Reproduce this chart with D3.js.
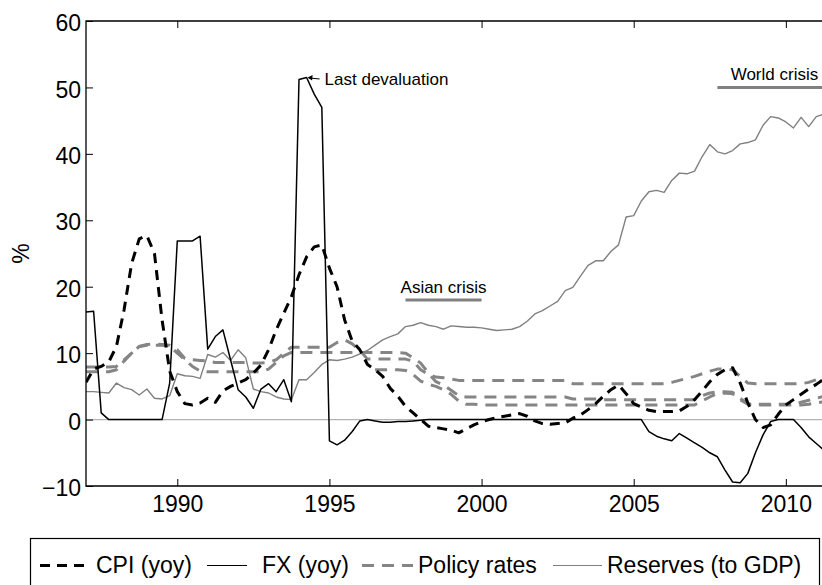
<!DOCTYPE html>
<html>
<head>
<meta charset="utf-8">
<title>CPI, FX, policy rates and reserves</title>
<script src="https://cdn.jsdelivr.net/npm/d3@7"></script>
<style>
body { margin: 0; background: #fff; }
svg text { font-family: "Liberation Sans", Arial, sans-serif; fill: #000; }
</style>
</head>
<body>
<div id="chart"></div>
<script>
// quarterly observations, 1987Q1 .. 2011Q2
const quarters = d3.range(1987, 2011.26, 0.25);

const cpi = [
	5.6, 7.6, 8.0, 8.7,   11, 16.5, 23.5, 27.2,   27.7, 25, 15, 7.3,
	4.2, 2.4, 2.2, 2.5,   3.2, 2.6, 4.3, 5.0,     5.5, 6.0, 7.0, 8.2,
	10.5, 13.5, 16, 18.5, 21.8, 24.5, 26.0, 26.3, 22.8, 20, 15, 11.8,
	10.5, 8.3, 7.5, 6.5,  4.7, 3.5, 2.0, 1.0,     0, -1.0, -1.2, -1.4,
	-1.6, -2.0, -1.4, -0.8, -0.3, 0, 0.3, 0.5,    0.7, 0.9, 0.5, -0.2,
	-0.6, -0.7, -0.6, -0.5, 0.2, 0.7, 1.5, 2.4,   3.5, 4.5, 5.2, 3.9,
	2.4, 1.9, 1.4, 1.2,   1.2, 1.2, 1.3, 2.0,     3.0, 4.3, 5.7, 6.8,
	7.5, 7.8, 5.5, 2.5,   0, -1.2, -0.8, 0.8,     2.2, 3.0, 3.8, 4.6,
	5.3, 6.1
];

const fx = [
	16.2, 16.3, 1.0, 0,   0, 0, 0, 0,             0, 0, 0, 5.5,
	26.9, 26.9, 26.9, 27.6, 10.6, 12.5, 13.5, 9.0, 4.5, 3.4, 1.7, 4.6,
	5.4, 4.2, 6.0, 2.7,   51.2, 51.5, 49.0, 47.0, -3.2, -3.8, -3.1, -1.8,
	-0.2, 0, -0.2, -0.4,  -0.4, -0.3, -0.3, -0.2, -0.1, 0, 0, 0,
	0, 0, 0, 0,           0, 0, 0, 0,             0, 0, 0, 0,
	0, 0, 0, 0,           0, 0, 0, 0,             0, 0, 0, 0,
	0, 0, -1.8, -2.5,     -2.9, -3.2, -2.1, -2.8, -3.5, -4.2, -5.0, -5.6,
	-7.6, -9.4, -9.5, -8.1, -5.0, -2.3, -0.3, 0,  0, 0, -1.2, -2.6,
	-3.6, -4.6
];

// three policy rate series share one legend entry
const policyA = [
	7.9, 7.9, 7.9, 7.9,   8.0, 9.0, 10.0, 11.0,   11.3, 11.4, 11.3, 11.2,
	10.5, 9.2, 9.0, 8.9,  8.8, 8.6, 8.6, 8.6,     8.6, 8.6, 8.5, 8.5,
	8.6, 9.0, 10.0, 10.9, 10.9, 10.9, 10.9, 10.9, 10.9, 11.6, 12.0, 11.4,
	10.4, 9.1, 9.1, 9.1,  9.1, 9.1, 9.1, 8.8,     7.5, 6.8, 6.4, 6.3,
	6.1, 5.9, 5.9, 5.9,   5.9, 5.9, 5.9, 5.9,     5.9, 5.9, 5.9, 5.9,
	5.9, 5.9, 5.9, 5.9,   5.4, 5.4, 5.4, 5.4,     5.4, 5.4, 5.4, 5.4,
	5.4, 5.4, 5.4, 5.4,   5.4, 5.6, 5.9, 6.2,     6.5, 6.9, 7.3, 7.6,
	7.6, 7.5, 6.5, 5.5,   5.4, 5.4, 5.4, 5.4,     5.4, 5.4, 5.4, 5.6,
	6.0, 6.5
];

const policyB = [
	7.2, 7.2, 7.2, 7.2,   7.5, 8.8, 10.0, 11.0,   11.2, 11.2, 11.2, 11.1,
	10.0, 9.0, 8.0, 7.3,  7.2, 7.2, 7.2, 7.2,     7.2, 7.2, 7.2, 7.2,
	7.6, 8.6, 9.6, 10.1,  10.1, 10.1, 10.1, 10.1, 10.1, 10.1, 10.1, 10.1,
	10.1, 10.1, 10.1, 10.1, 10.1, 10.1, 10.0, 9.3, 8.5, 7.0, 5.7, 5.2,
	4.4, 3.6, 3.4, 3.4,   3.4, 3.4, 3.4, 3.4,     3.4, 3.4, 3.4, 3.4,
	3.4, 3.4, 3.4, 3.4,   3.1, 3.1, 3.1, 3.1,     3.0, 3.0, 3.0, 3.0,
	3.0, 3.0, 3.0, 3.0,   3.0, 3.0, 3.0, 3.0,     3.0, 3.6, 4.0, 4.2,
	4.2, 4.1, 3.2, 2.4,   2.3, 2.3, 2.3, 2.3,     2.3, 2.3, 2.6, 2.9,
	3.2, 3.5
];

const policyC = [
	null, null, null, null, null, null, null, null, null, null, null, null,
	null, null, null, null, null, null, null, null, null, null, null, null,
	null, null, null, null, null, null, null, null, null, null, null, null,
	null, null, 7.5, 7.5, 7.5, 7.5, 7.4, 6.8,     5.8, 5.3, 5.0, 4.5,
	3.8, 2.8, 2.3, 2.3,   2.2, 2.2, 2.2, 2.2,     2.2, 2.2, 2.2, 2.2,
	2.2, 2.2, 2.2, 2.2,   2.2, 2.2, 2.2, 2.2,     2.2, 2.2, 2.2, 2.2,
	2.2, 2.2, 2.2, 2.2,   2.2, 2.2, 2.2, 2.2,     2.2, 2.8, 3.4, 3.9,
	4.0, 3.9, 3.0, 2.3,   2.2, 2.2, 2.2, 2.2,     2.2, 2.2, 2.2, 2.3,
	2.5, 2.7
];

const reserves = [
	4.2, 4.2, 4.1, 4.0,   5.5, 4.8, 4.5, 3.7,     4.6, 3.2, 3.1, 3.6,
	6.9, 6.6, 6.5, 6.2,   9.8, 9.4, 10.1, 8.9,    10.5, 9.3, 4.6, 4.2,
	4.0, 3.4, 3.1, 3.0,   6.0, 6.0, 7.1, 8.3,     9.0, 8.9, 9.1, 9.4,
	9.9, 10.4, 11.2, 12.0, 12.5, 12.9, 14.0, 14.2, 14.6, 14.2, 14.0, 13.6,
	14.1, 14.0, 13.9, 13.9, 13.8, 13.6, 13.4, 13.5, 13.6, 14.0, 14.8, 15.9,
	16.4, 17.1, 17.8, 19.4, 19.9, 21.6, 23.2, 23.9, 23.9, 25.3, 26.3, 30.5,
	30.7, 32.9, 34.3, 34.5, 34.2, 36.0, 37.1, 37.0, 37.4, 39.6, 41.4, 40.3,
	40.0, 40.5, 41.5, 41.7, 42.1, 44.3, 45.6, 45.4, 44.8, 43.9, 45.5, 44.1,
	45.6, 46.0
];

const xTicks = [1990, 1995, 2000, 2005, 2010];
const yTicks = [-10, 0, 10, 20, 30, 40, 50, 60];

const crisisNames = ["Asian crisis", "World crisis"];
const crisisStart = [1997.5, 2007.75];
const crisisEnd = [2000, 2011.5];
const crisisLevel = [18, 50];

const noteText = "Last devaluation";
const noteAt = [1994.25, 51.5];

const legendNames = ["CPI (yoy)", "FX (yoy)", "Policy rates", "Reserves (to GDP)"];

const width = 822, height = 585;
const margin = {top: 21, left: 86, bottom: 99};

const x = d3.scaleLinear().domain([1987, 2011.5]).range([margin.left, 831.5]);
const y = d3.scaleLinear().domain([-10, 60]).range([height - margin.bottom, margin.top]);

const svg = d3.select("#chart").append("svg")
	.attr("width", width)
	.attr("height", height);

svg.append("defs").append("clipPath")
	.attr("id", "plot-clip")
	.append("rect")
	.attr("x", x.range()[0])
	.attr("y", y.range()[1])
	.attr("width", x.range()[1] - x.range()[0])
	.attr("height", y.range()[0] - y.range()[1]);

const plot = svg.append("g").attr("clip-path", "url(#plot-clip)");

// zero line
plot.append("line")
	.attr("x1", x.range()[0]).attr("x2", x.range()[1])
	.attr("y1", y(0)).attr("y2", y(0))
	.attr("stroke", "#b4b4b4")
	.attr("stroke-width", 1.2);

const line = d3.line()
	.defined(d => d !== null)
	.x((d, i) => x(quarters[i]))
	.y(d => y(d));

const styles = {
	cpi: {stroke: "#000", width: 3, dash: "10,7", key: 3},
	fx: {stroke: "#000", width: 1.5, dash: null, key: 1},
	policy: {stroke: "#858585", width: 3, dash: "12,8", key: 3},
	reserves: {stroke: "#808080", width: 1.4, dash: null, key: 1}
};

function drawSeries(values, st){
	plot.append("path")
		.datum(values)
		.attr("fill", "none")
		.attr("stroke", st.stroke)
		.attr("stroke-width", st.width)
		.attr("stroke-dasharray", st.dash)
		.attr("stroke-linejoin", "round")
		.attr("d", line);
}

[policyA, policyB, policyC].forEach(p => drawSeries(p, styles.policy));
drawSeries(reserves, styles.reserves);
drawSeries(fx, styles.fx);
drawSeries(cpi, styles.cpi);

// crisis bars
crisisNames.forEach(function(name, i){
	plot.append("line")
		.attr("x1", x(crisisStart[i])).attr("x2", x(crisisEnd[i]))
		.attr("y1", y(crisisLevel[i])).attr("y2", y(crisisLevel[i]))
		.attr("stroke", "#808080")
		.attr("stroke-width", 3);
	plot.append("text")
		.attr("x", x((crisisStart[i] + crisisEnd[i]) / 2))
		.attr("y", y(crisisLevel[i]) - 7)
		.attr("text-anchor", "middle")
		.style("font-size", "17px")
		.text(name);
});

// annotation arrow
const nx = x(noteAt[0]), ny = y(noteAt[1]);
svg.append("line")
	.attr("x1", nx + 13).attr("x2", nx + 2)
	.attr("y1", ny + 1.5).attr("y2", ny + 0.5)
	.attr("stroke", "#000").attr("stroke-width", 1);
svg.append("path")
	.attr("d", `M${nx + 1},${ny} L${nx + 6},${ny - 2.5} L${nx + 5.5},${ny + 3} Z`)
	.attr("fill", "#000");
svg.append("text")
	.attr("x", nx + 18)
	.attr("y", ny + 2)
	.attr("dy", "0.35em")
	.style("font-size", "17px")
	.text(noteText);

// axes with inward ticks
svg.append("g")
	.attr("transform", `translate(${margin.left},0)`)
	.call(d3.axisLeft(y).tickValues(yTicks).tickSize(-7).tickPadding(5))
	.call(g => g.select(".domain").remove())
	.call(g => g.selectAll("text").style("font-size", "23px").attr("dy", "0.42em"));

svg.append("g")
	.attr("transform", `translate(0,${y.range()[0]})`)
	.call(d3.axisBottom(x).tickValues(xTicks).tickFormat(d3.format("d")).tickSize(-7).tickPadding(10))
	.call(g => g.select(".domain").remove())
	.call(g => g.selectAll("text").style("font-size", "23px"));

svg.append("g")
	.attr("transform", `translate(0,${y.range()[1]})`)
	.call(d3.axisTop(x).tickValues(xTicks).tickFormat("").tickSize(-7))
	.call(g => g.select(".domain").remove());

svg.selectAll(".tick line").attr("stroke", "#000").attr("stroke-width", 1);

// frame
svg.append("path")
	.attr("d", `M${x.range()[1]},${y.range()[1]} H${x.range()[0]} V${y.range()[0]} H${x.range()[1]}`)
	.attr("fill", "none")
	.attr("stroke", "#000")
	.attr("stroke-width", 1.3);

svg.append("text")
	.attr("transform", `translate(21,${(y.range()[0] + y.range()[1]) / 2}) rotate(-90)`)
	.attr("text-anchor", "middle")
	.attr("dy", "0.35em")
	.style("font-size", "23px")
	.text("%");

// legend
const legend = svg.append("g");
legend.append("rect")
	.attr("x", 30.5).attr("y", 538.5)
	.attr("width", 789).attr("height", 70)
	.attr("fill", "#fff")
	.attr("stroke", "#000")
	.attr("stroke-width", 1.2);

const legendSwatch = [[40, 91], [207, 247], [362, 413], [553, 602]];
const legendTextX = [96, 262, 418, 607];
const legendStyles = [styles.cpi, styles.fx, styles.policy, styles.reserves];
legendNames.forEach(function(name, i){
	const st = legendStyles[i];
	legend.append("line")
		.attr("x1", legendSwatch[i][0]).attr("x2", legendSwatch[i][1])
		.attr("y1", 565.5).attr("y2", 565.5)
		.attr("stroke", st.stroke)
		.attr("stroke-width", st.key)
		.attr("stroke-dasharray", st.dash);
	legend.append("text")
		.attr("x", legendTextX[i])
		.attr("y", 565)
		.attr("dy", "0.35em")
		.style("font-size", "23px")
		.text(name);
});
</script>
</body>
</html>
